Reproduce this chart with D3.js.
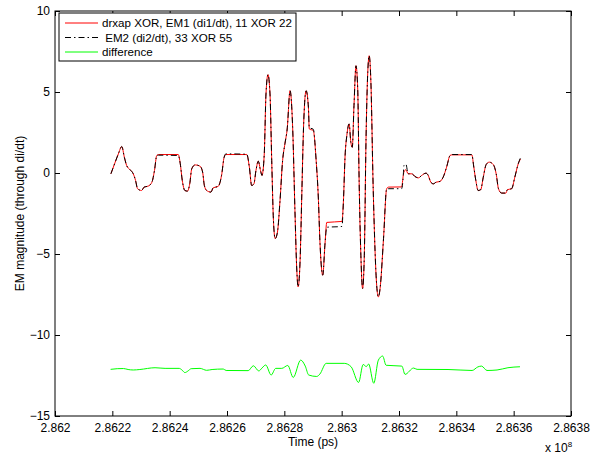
<!DOCTYPE html>
<html>
<head>
<meta charset="utf-8">
<script src="https://d3js.org/d3.v7.min.js"></script>
<style>
  body { margin: 0; background: #fff; }
  svg text { font-family: "Liberation Sans", Arial, Helvetica, sans-serif; fill: #000; }
</style>
</head>
<body>
<div id="chart"></div>
<script>
// time values are in units of 1e8 ps (axis shows "x 10^8")
const timeEM = [
  2.862195, 2.862210, 2.862221, 2.862233, 2.862242, 2.862250, 2.862262, 2.862273, 2.862281, 2.862288,
  2.862302, 2.862311, 2.862325, 2.862338, 2.862347, 2.862355, 2.862361, 2.862430, 2.862437, 2.862444,
  2.862453, 2.862462, 2.862470, 2.862477, 2.862489, 2.862506, 2.862515, 2.862521, 2.862529, 2.862544,
  2.862552, 2.862569, 2.862581, 2.862590, 2.862596, 2.862669, 2.862678, 2.862686, 2.862694, 2.862701,
  2.862709, 2.862717, 2.862722, 2.862730, 2.862736, 2.862743, 2.862750, 2.862756, 2.862762, 2.862768,
  2.862776, 2.862785, 2.862794, 2.862802, 2.862810, 2.862820, 2.862829, 2.862837, 2.862843, 2.862848,
  2.862855, 2.862861, 2.862867, 2.862876, 2.862884, 2.862887, 2.862901, 2.862911, 2.862919, 2.862924,
  2.862934, 2.862942, 2.862948, 2.863001, 2.863006, 2.863012, 2.863018, 2.863026, 2.863032, 2.863037,
  2.863043, 2.863050, 2.863056, 2.863061, 2.863067, 2.863073, 2.863079, 2.863085, 2.863091, 2.863096,
  2.863102, 2.863110, 2.863123, 2.863128, 2.863134, 2.863146, 2.863157, 2.863163, 2.863209, 2.863215,
  2.863217, 2.863224, 2.863232, 2.863245, 2.863256, 2.863268, 2.863279, 2.863294, 2.863302, 2.863311,
  2.863320, 2.863329, 2.863343, 2.863354, 2.863366, 2.863378, 2.863384, 2.863454, 2.863461, 2.863468,
  2.863476, 2.863485, 2.863494, 2.863504, 2.863515, 2.863529, 2.863539, 2.863547, 2.863558, 2.863573,
  2.863578, 2.863593, 2.863604, 2.863616, 2.863624
];

// EM1 (red, solid)
const em1 = [
  -0.05, 0.67, 1.18, 1.63, 0.97, 0.46, 0.20, -0.05, -0.46, -0.97,
  -1.08, -0.87, -0.81, -0.57, 0.15, 1.08, 1.14, 1.14, 0.57, -0.46,
  -1.08, -1.12, -0.67, 0.26, 0.50, 0.42, 0.05, -0.77, -1.08, -1.18,
  -0.91, -0.83, -0.15, 0.97, 1.14, 1.14, 0.36, -0.77, -0.67, 0.15,
  0.73, 0.15, -0.15, 1.18, 4.88, 6.07, 4.88, 0.77, -2.92, -4.05,
  -3.65, -1.69, 0.77, 1.80, 2.72, 5.08, 2.82, -2.31, -5.80, -7.03,
  -5.39, -1.28, 2.82, 5.08, 4.05, 2.72, 2.62, 0.77, -1.69, -4.16,
  -6.31, -4.34, -3.05, -2.99, -1.80, 1.08, 2.31, 3.03, 1.90, 1.59,
  4.16, 6.62, 5.18, -0.57, -5.08, -7.13, -5.08, 2.11, 6.21, 7.24,
  5.59, -0.97, -7.13, -7.65, -7.13, -4.05, -0.97, -0.87, -0.86, -0.15,
  0.05, 0.20, -0.05, -0.05, -0.22, -0.30, -0.15, -0.01, -0.15, -0.57,
  -0.67, -0.57, -0.52, -0.26, 0.36, 1.08, 1.12, 1.12, 0.36, -0.46,
  -1.08, -1.03, -0.26, 0.52, 0.67, 0.52, -0.05, -0.97, -1.24, -1.24,
  -1.03, -0.97, -0.26, 0.57, 0.87
];

// EM2 (black, dash-dot)
const em2 = [
  -0.05, 0.67, 1.18, 1.63, 0.97, 0.46, 0.20, -0.05, -0.46, -0.97,
  -1.08, -0.87, -0.81, -0.57, 0.15, 1.08, 1.10, 1.08, 0.57, -0.46,
  -1.08, -1.12, -0.67, 0.26, 0.50, 0.42, 0.05, -0.77, -1.08, -1.18,
  -0.91, -0.83, -0.15, 0.97, 1.18, 1.16, 0.36, -0.77, -0.67, 0.15,
  0.73, 0.15, -0.15, 1.18, 4.88, 6.07, 4.88, 0.77, -2.92, -4.05,
  -3.65, -1.69, 0.77, 1.80, 2.72, 5.08, 2.82, -2.31, -5.80, -7.03,
  -5.39, -1.28, 2.82, 5.08, 4.05, 2.80, 2.70, 0.77, -1.69, -4.16,
  -6.31, -4.34, -3.35, -3.30, -1.80, 1.08, 2.31, 3.03, 1.90, 1.59,
  4.16, 6.62, 5.18, -0.57, -5.08, -7.13, -5.08, 2.11, 6.21, 7.24,
  5.59, -0.97, -7.13, -7.65, -7.13, -4.05, -0.97, -0.97, -0.97, -0.15,
  0.45, 0.55, -0.05, -0.05, -0.22, -0.30, -0.15, -0.01, -0.15, -0.57,
  -0.67, -0.57, -0.52, -0.26, 0.36, 1.08, 1.14, 1.14, 0.36, -0.46,
  -1.08, -1.03, -0.26, 0.52, 0.67, 0.52, -0.05, -0.97, -1.24, -1.24,
  -1.03, -0.97, -0.26, 0.57, 0.95
];

// difference (green, shown around -12)
const timeDiff = [
  2.862194, 2.862217, 2.862239, 2.862255, 2.862273, 2.862296, 2.862349, 2.862384, 2.862433, 2.862443,
  2.862453, 2.862464, 2.862475, 2.862506, 2.862529, 2.862548, 2.862587, 2.862597, 2.862674, 2.862692,
  2.862711, 2.862722, 2.862735, 2.862754, 2.862770, 2.862791, 2.862812, 2.862831, 2.862857, 2.862873,
  2.862885, 2.862913, 2.862924, 2.862946, 2.863009, 2.863033, 2.863059, 2.863075, 2.863086, 2.863094,
  2.863112, 2.863128, 2.863143, 2.863155, 2.863210, 2.863221, 2.863251, 2.863263, 2.863371, 2.863455,
  2.863475, 2.863488, 2.863507, 2.863542, 2.863580, 2.863622
];
const diff = [
  -12.12, -12.08, -12.07, -12.13, -12.16, -12.13, -12.02, -12.06, -12.06, -12.16,
  -12.32, -12.22, -12.08, -12.06, -12.18, -12.13, -12.10, -12.19, -12.20, -11.90,
  -12.22, -12.04, -11.85, -12.47, -12.06, -12.06, -11.88, -12.62, -11.55, -11.92,
  -12.47, -12.56, -12.41, -11.75, -11.75, -11.96, -12.93, -11.82, -11.95, -11.79,
  -12.98, -11.55, -11.30, -11.87, -11.92, -12.43, -12.04, -12.12, -12.13, -12.19,
  -11.97, -11.92, -12.19, -12.16, -12.02, -11.96
];

const xTicks = [2.862, 2.8622, 2.8624, 2.8626, 2.8628, 2.863, 2.8632, 2.8634, 2.8636, 2.8638];
const xTickLabels = ["2.862", "2.8622", "2.8624", "2.8626", "2.8628", "2.863", "2.8632", "2.8634", "2.8636", "2.8638"];
const yTicks = [-15, -10, -5, 0, 5, 10];
const seriesNames = ["drxap XOR, EM1 (di1/dt), 11 XOR 22", " EM2 (di2/dt), 33 XOR 55", "difference"];

let margin = { top: 11, right: 23, bottom: 40, left: 55 },
  width = 594 - margin.left - margin.right,
  height = 456 - margin.top - margin.bottom;

let root = d3.select("#chart").append("svg")
  .attr("width", 594)
  .attr("height", 456);

let svg = root.append("g")
  .attr("transform", "translate(" + margin.left + "," + margin.top + ")");

let x = d3.scaleLinear()
  .domain([2.862, 2.8638])
  .range([0, width]);

let y = d3.scaleLinear()
  .domain([-15, 10])
  .range([height, 0]);

// axes, MATLAB style: ticks point inward on all four sides
function styleAxis(g) {
  g.select(".domain").remove();
  g.selectAll("line").attr("stroke", "#000");
  g.selectAll("text").style("font-size", "12px").attr("fill", "#000");
}

svg.append("g")
  .attr("transform", "translate(0," + height + ")")
  .call(d3.axisBottom(x).tickValues(xTicks).tickFormat((d, i) => xTickLabels[i])
    .tickSizeInner(-5).tickSizeOuter(0).tickPadding(7))
  .call(styleAxis);

svg.append("g")
  .call(d3.axisTop(x).tickValues(xTicks).tickFormat("")
    .tickSizeInner(-5).tickSizeOuter(0))
  .call(styleAxis);

svg.append("g")
  .call(d3.axisLeft(y).tickValues(yTicks).tickFormat(d3.format("d"))
    .tickSizeInner(-5).tickSizeOuter(0).tickPadding(5))
  .call(styleAxis);

svg.append("g")
  .attr("transform", "translate(" + width + ",0)")
  .call(d3.axisRight(y).tickValues(yTicks).tickFormat("")
    .tickSizeInner(-5).tickSizeOuter(0))
  .call(styleAxis);

// box
svg.append("rect")
  .attr("width", width)
  .attr("height", height)
  .attr("fill", "none")
  .attr("stroke", "#000")
  .attr("stroke-width", 1);

// lines
let line = d3.line()
  .x(d => x(d[0]))
  .y(d => y(d[1]))
  .curve(d3.curveMonotoneX);

svg.append("path")
  .datum(d3.zip(timeEM, em1))
  .attr("fill", "none")
  .attr("stroke", "#ff0000")
  .attr("stroke-width", 1)
  .attr("d", line);

svg.append("path")
  .datum(d3.zip(timeEM, em2))
  .attr("fill", "none")
  .attr("stroke", "#000")
  .attr("stroke-width", 1)
  .attr("stroke-dasharray", "6,3,1.5,3")
  .attr("d", line);

svg.append("path")
  .datum(d3.zip(timeDiff, diff))
  .attr("fill", "none")
  .attr("stroke", "#00ff00")
  .attr("stroke-width", 1)
  .attr("d", line);

// axis labels
root.append("text")
  .attr("x", margin.left + width / 2)
  .attr("y", 446)
  .attr("text-anchor", "middle")
  .style("font-size", "12px")
  .text("Time (ps)");

let expo = root.append("text")
  .attr("x", 545)
  .attr("y", 452)
  .style("font-size", "12px");
expo.append("tspan").text("x 10");
expo.append("tspan").attr("dy", -5).style("font-size", "8px").text("8");

root.append("text")
  .attr("transform", "translate(24," + (margin.top + height / 2) + ") rotate(-90)")
  .attr("text-anchor", "middle")
  .style("font-size", "12px")
  .text("EM magnitude (through di/dt)");

// legend
let legend = root.append("g")
  .attr("transform", "translate(59,13)");

legend.append("rect")
  .attr("width", 237)
  .attr("height", 48)
  .attr("fill", "#fff")
  .attr("stroke", "#000")
  .attr("stroke-width", 1);

let legendStyles = [
  { color: "#ff0000", dash: null },
  { color: "#000", dash: "6,3,1.5,3" },
  { color: "#00ff00", dash: null }
];

seriesNames.forEach(function (name, i) {
  let ly = 10 + i * 14.5;
  legend.append("line")
    .attr("x1", 6).attr("x2", 39)
    .attr("y1", ly).attr("y2", ly)
    .attr("stroke", legendStyles[i].color)
    .attr("stroke-width", 1)
    .attr("stroke-dasharray", legendStyles[i].dash);
  legend.append("text")
    .attr("x", 43)
    .attr("y", ly + 4)
    .style("font-size", "11.6px")
    .style("white-space", "pre")
    .text(name);
});
</script>
</body>
</html>
